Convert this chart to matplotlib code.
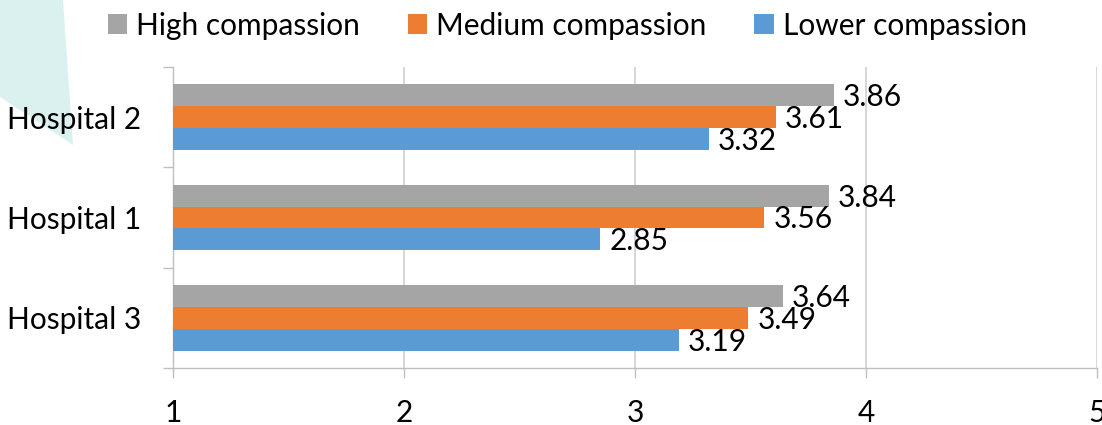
import matplotlib
matplotlib.use("Agg")
import matplotlib.pyplot as plt
from matplotlib.patches import Polygon
import numpy as np

plt.rcParams['font.family'] = ['Lato', 'DejaVu Sans']

hospitals = ['Hospital 3', 'Hospital 1', 'Hospital 2']
series = ['High compassion', 'Medium compassion', 'Lower compassion']
high = [3.64, 3.84, 3.86]
medium = [3.49, 3.56, 3.61]
lower = [3.19, 2.85, 3.32]
colors = ['#a5a5a5', '#ed7d31', '#5b9bd5']
xticks = [1, 2, 3, 4, 5]

fig = plt.figure(figsize=(11.02, 4.25), dpi=100)

# pale teal decoration in the upper left corner, behind everything
fig.patches.append(Polygon([(0, 1), (63 / 1102, 1), (73 / 1102, 1 - 145 / 425),
                            (0, 1 - 97 / 425)], closed=True,
                           transform=fig.transFigure, facecolor='#dbf1ef',
                           edgecolor='none', zorder=-5))

ax = fig.add_axes([173 / 1102, 1 - 368 / 425, 924 / 1102, 301 / 425])
ax.patch.set_alpha(0)

y = np.arange(len(hospitals))
h = 0.218
fs = 21.5
for vals, off, c, name in zip([high, medium, lower], [h, 0, -h], colors, series):
    ax.barh(y + off, [v - 1 for v in vals], left=1, height=h,
            color=c, label=name, zorder=3)
    for yy, v in zip(y + off, vals):
        ax.annotate(f'{v:.2f}', (v, yy), xytext=(9, -2), textcoords='offset pixels',
                    va='center', ha='left', fontsize=fs, zorder=4)

ax.set_xlim(1, 5)
ax.set_ylim(-0.5, 2.5)
ax.set_xticks(xticks)
ax.set_xticklabels([str(t) for t in xticks])
ax.set_yticks(y)
ax.set_yticklabels(hospitals)
ax.set_yticks([-0.5, 0.5, 1.5, 2.5], minor=True)
ax.tick_params(axis='y', which='major', length=0, pad=23, labelsize=fs)
ax.tick_params(axis='y', which='minor', length=7, color='#bfbfbf', width=1)
ax.tick_params(axis='x', length=7, color='#bfbfbf', width=1, pad=15, labelsize=fs)
ax.grid(axis='x', color='#d0d0d0', linewidth=1.2, zorder=0)
for s in ['top', 'right']:
    ax.spines[s].set_visible(False)
for s in ['left', 'bottom']:
    ax.spines[s].set_color('#bfbfbf')
    ax.spines[s].set_linewidth(1)

handles, labels = ax.get_legend_handles_labels()
fig.legend(handles, labels, loc='upper left', bbox_to_anchor=(96 / 1102, 1.0),
           ncol=3, frameon=False, fontsize=fs, handlelength=0.65, handleheight=0.65,
           handletextpad=0.3, columnspacing=1.6, borderaxespad=0)

fig.savefig('out.png', dpi=100)
